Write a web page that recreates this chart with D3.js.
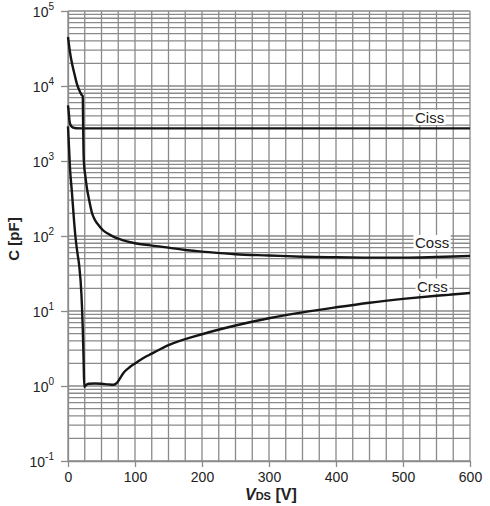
<!DOCTYPE html>
<html>
<head>
<meta charset="utf-8">
<script src="https://cdn.jsdelivr.net/npm/d3@7"></script>
<style>
  body { margin: 0; background: #fff; }
  svg { display: block; font-family: "Liberation Sans", Arial, sans-serif; }
</style>
</head>
<body>
<svg id="chart" width="490" height="506"></svg>
<script>
// capacitance vs drain-source voltage
const cissV = [0, 1, 2, 3, 5, 8, 12, 20, 100, 300, 600];
const cissC = [5500, 4600, 3600, 3150, 2900, 2780, 2730, 2720, 2720, 2720, 2720];

const cossV = [0, 3, 6, 10, 13.5, 17, 20, 22, 22.6, 23.2, 24, 26, 28.5, 31, 36, 40, 46, 52, 60, 70, 80, 100, 123, 150, 175, 200, 250, 300, 350, 400, 450, 500, 550, 600];
const cossC = [45000, 28000, 20000, 14000, 10500, 8700, 7700, 7300, 3000, 1300, 900, 620, 420, 320, 200, 165, 138, 120, 107, 96, 89, 80, 75, 70, 65, 62, 57, 55, 53, 52, 51.5, 51.5, 52.5, 54];

const crssV = [0, 1, 3, 6, 9, 11, 14, 16.5, 20, 22, 23.3, 24.3, 27, 31, 40, 50, 60, 68, 73, 78, 83, 90, 100, 112, 125, 150, 200, 250, 300, 350, 400, 450, 500, 550, 600];
const crssC = [2900, 1900, 800, 370, 160, 100, 60, 42, 17, 6, 2.2, 0.97, 1.03, 1.07, 1.08, 1.07, 1.05, 1.04, 1.1, 1.28, 1.5, 1.72, 2.0, 2.35, 2.7, 3.5, 4.9, 6.4, 8.0, 9.6, 11.2, 12.9, 14.5, 16.0, 17.4];

const seriesNames = ['Ciss', 'Coss', 'Crss'];
const xTicks = [0, 100, 200, 300, 400, 500, 600];
const yDecades = [0.1, 1, 10, 100, 1000, 10000, 100000];
const yExponents = ['-1', '0', '1', '2', '3', '4', '5'];

const svg = d3.select('#chart');
const margin = { top: 11, right: 20, bottom: 45, left: 68 };
const width = 470 - margin.left;
const height = 461 - margin.top;

const x = d3.scaleLinear().domain([0, 600]).range([margin.left, margin.left + width]);
const y = d3.scaleLog().domain([0.1, 100000]).range([margin.top + height, margin.top]);

const gridColor = '#8a8a8a';

// minor/major grid
const hGrid = [];
yDecades.slice(0, -1).forEach(d => { for (let k = 1; k < 10; k++) hGrid.push(d * k); });
hGrid.push(100000);
const vGrid = d3.range(0, 601, 25);

const grid = svg.append('g').attr('stroke', gridColor).attr('stroke-width', 1.3);
grid.selectAll('.hg').data(hGrid).enter().append('line')
  .attr('x1', x(0)).attr('x2', x(600))
  .attr('y1', d => y(d)).attr('y2', d => y(d));
grid.selectAll('.vg').data(vGrid).enter().append('line')
  .attr('x1', d => x(d)).attr('x2', d => x(d))
  .attr('y1', y(0.1)).attr('y2', y(100000));

// axes
const xAxis = d3.axisBottom(x).tickValues(xTicks).tickSize(6).tickSizeOuter(0);
const yAxis = d3.axisLeft(y).tickValues(yDecades).tickSize(7).tickSizeOuter(0).tickFormat(() => '');

const gx = svg.append('g').attr('transform', `translate(0,${y(0.1)})`).call(xAxis);
gx.selectAll('text').attr('y', 21).attr('dy', 0).attr('font-size', 14).attr('fill', '#222');

const gy = svg.append('g').attr('transform', `translate(${x(0)},0)`).call(yAxis);
gy.selectAll('.tick text')
  .attr('x', -14).attr('dy', '0.42em').attr('font-size', 14).attr('fill', '#222')
  .each(function(d, i) {
    const t = d3.select(this);
    t.append('tspan').text('10');
    t.append('tspan').attr('dy', -7).attr('font-size', 10).text(yExponents[i]);
  });

[gx, gy].forEach(g => {
  g.select('.domain').attr('stroke', gridColor).attr('stroke-width', 1.3);
  g.selectAll('.tick line').attr('stroke', gridColor).attr('stroke-width', 1.3);
});

// curves
const line = d3.line().x(d => x(d[0])).y(d => y(d[1])).curve(d3.curveMonotoneX);
const series = [
  d3.zip(cissV, cissC),
  d3.zip(cossV, cossC),
  d3.zip(crssV, crssC)
];
svg.append('g').selectAll('path').data(series).enter().append('path')
  .attr('d', line)
  .attr('fill', 'none')
  .attr('stroke', '#151515')
  .attr('stroke-width', 2.4)
  .attr('stroke-linejoin', 'round');

// curve labels on white boxes
const labelPos = [
  { x: 415, y: 123 },
  { x: 415, y: 248 },
  { x: 417, y: 291.5 }
];
const labels = svg.append('g');
seriesNames.forEach((name, i) => {
  const g = labels.append('g');
  const t = g.append('text')
    .attr('x', labelPos[i].x).attr('y', labelPos[i].y)
    .attr('font-size', 15).attr('fill', '#222').text(name);
  const b = t.node().getBBox();
  g.insert('rect', 'text')
    .attr('x', b.x - 1.5).attr('y', b.y + 1).attr('width', b.width + 3).attr('height', b.height - 2)
    .attr('fill', '#fff');
});

// axis titles
svg.append('text')
  .attr('transform', `translate(19,${(y(0.1) + y(100000)) / 2 + 3}) rotate(-90)`)
  .attr('text-anchor', 'middle')
  .attr('font-size', 15).attr('font-weight', 'bold').attr('fill', '#222')
  .text('C [pF]');

const xt = svg.append('text')
  .attr('x', 245).attr('y', 500)
  .attr('font-size', 16).attr('font-weight', 'bold').attr('fill', '#222');
xt.append('tspan').attr('font-style', 'italic').text('V');
xt.append('tspan').attr('font-size', 11).text('DS');
xt.append('tspan').text(' [V]');
</script>
</body>
</html>
